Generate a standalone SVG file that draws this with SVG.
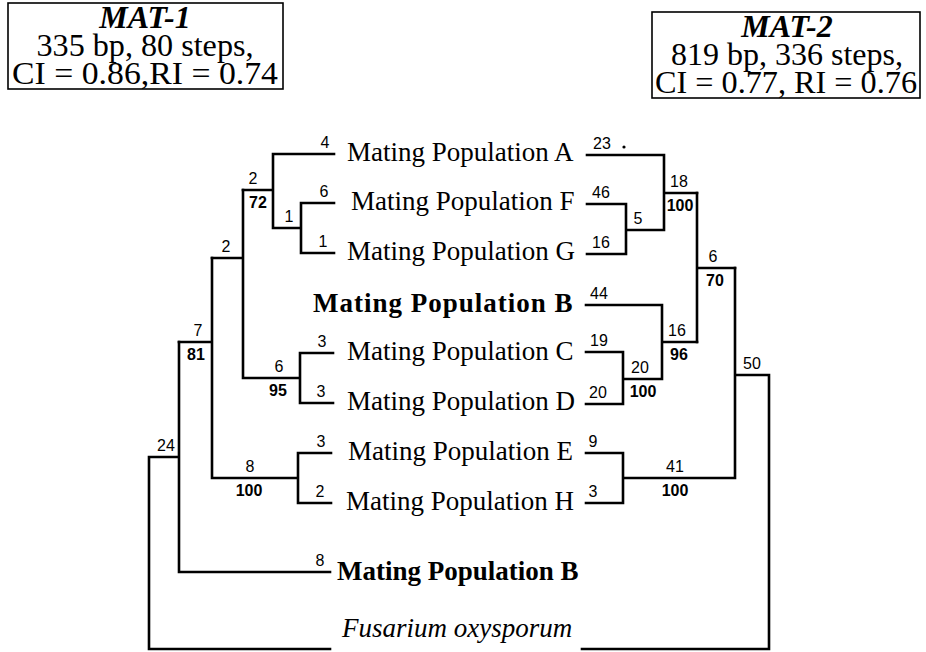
<svg xmlns="http://www.w3.org/2000/svg" width="926" height="652" viewBox="0 0 926 652">
  <style>
    .box { fill: none; stroke: #000; stroke-width: 1.6; }
    .hd { font-family: "Liberation Serif", "Times New Roman", serif; font-size: 31px; text-anchor: middle; fill: #000; }
    .hdt { font-weight: bold; font-style: italic; font-size: 32px; }
    .taxon { font-family: "Liberation Serif", "Times New Roman", serif; font-size: 27px; fill: #000; }
    .strong { font-weight: bold; }
    .ital { font-style: italic; }
    .br { fill: none; stroke: #000; stroke-width: 2.6; stroke-linecap: square; }
    .num { font-family: "Liberation Sans", Arial, sans-serif; font-size: 16px; text-anchor: middle; fill: #000; }
    .bs { font-weight: bold; }
  </style>

  <!-- data summary boxes -->
  <g id="mat1-box">
    <rect class="box" x="8" y="3" width="275" height="86"/>
    <text class="hd hdt" x="145" y="28">MAT-1</text>
    <text class="hd" x="145" y="56" textLength="217" lengthAdjust="spacingAndGlyphs">335 bp, 80 steps,</text>
    <text class="hd" x="145" y="84" textLength="266" lengthAdjust="spacingAndGlyphs">CI = 0.86,RI = 0.74</text>
  </g>
  <g id="mat2-box">
    <rect class="box" x="652" y="12" width="268" height="86"/>
    <text class="hd hdt" x="787" y="37">MAT-2</text>
    <text class="hd" x="787" y="65" textLength="232" lengthAdjust="spacingAndGlyphs">819 bp, 336 steps,</text>
    <text class="hd" x="786" y="93" textLength="262" lengthAdjust="spacingAndGlyphs">CI = 0.77, RI = 0.76</text>
  </g>

  <!-- taxa -->
  <g id="taxon-A"><text class="taxon" x="347" y="161">Mating Population A</text></g>
  <g id="taxon-F"><text class="taxon" x="351" y="210">Mating Population F</text></g>
  <g id="taxon-G"><text class="taxon" x="347" y="260">Mating Population G</text></g>
  <g id="taxon-B1"><text class="taxon strong" x="313" y="312" font-size="30" letter-spacing="1">Mating Population B</text></g>
  <g id="taxon-C"><text class="taxon" x="347" y="360">Mating Population C</text></g>
  <g id="taxon-D"><text class="taxon" x="347" y="410">Mating Population D</text></g>
  <g id="taxon-E"><text class="taxon" x="348" y="460">Mating Population E</text></g>
  <g id="taxon-H"><text class="taxon" x="346" y="510">Mating Population H</text></g>
  <g id="taxon-B2"><text class="taxon strong" x="337" y="580" font-size="26.5">Mating Population B</text></g>
  <g id="taxon-Fox"><text class="taxon ital" x="342" y="637" font-size="26.5">Fusarium oxysporum</text></g>

  <!-- MAT-1 tree (left) -->
  <g id="connectors-mat1">
    <path class="br" d="M273,154 H334 M301,203 H334 M301,253 H334 M301,203 V253 M273,228 H301 M273,154 V228 M243,190 H273"/>
    <path class="br" d="M300,353 H333 M300,403 H333 M300,353 V403 M243,378 H300 M243,190 V378 M212,258 H243"/>
    <path class="br" d="M298,453 H331 M298,503 H331 M298,453 V503 M212,478 H298 M212,258 V478 M179,342 H212"/>
    <path class="br" d="M179,572 H330 M179,342 V572 M149,457 H179 M149,457 V649 H330"/>
  </g>
  <g id="labels-mat1">
    <text class="num" x="325" y="148">4</text>
    <text class="num" x="324" y="197">6</text>
    <text class="num" x="323" y="247">1</text>
    <text class="num" x="289" y="222">1</text>
    <text class="num" x="253" y="184">2</text>
    <text class="num bs" x="258" y="208">72</text>
    <text class="num" x="226" y="252">2</text>
    <text class="num" x="322" y="347">3</text>
    <text class="num" x="321" y="397">3</text>
    <text class="num" x="279" y="372">6</text>
    <text class="num bs" x="278" y="396">95</text>
    <text class="num" x="198" y="336">7</text>
    <text class="num bs" x="196" y="360">81</text>
    <text class="num" x="321" y="447">3</text>
    <text class="num" x="320" y="497">2</text>
    <text class="num" x="250" y="472">8</text>
    <text class="num bs" x="249" y="496">100</text>
    <text class="num" x="320" y="566">8</text>
    <text class="num" x="166" y="451">24</text>
  </g>

  <!-- MAT-2 tree (right) -->
  <g id="connectors-mat2">
    <path class="br" d="M587,155 H664 M587,204 H626 M587,254 H626 M626,204 V254 M626,230 H664 M664,155 V230 M664,193 H697"/>
    <path class="br" d="M586,305 H662 M586,352 H623 M586,404 H623 M623,352 V404 M623,379 H662 M662,305 V379 M662,342 H697"/>
    <path class="br" d="M697,193 V342 M697,268 H735"/>
    <path class="br" d="M586,453 H623 M586,503 H623 M623,453 V503 M623,478 H735 M735,268 V478 M735,375 H769 M769,375 V649 H582"/>
    <circle cx="624" cy="147" r="1.6" fill="#000"/>
  </g>
  <g id="labels-mat2">
    <text class="num" x="602" y="149">23</text>
    <text class="num" x="601" y="198">46</text>
    <text class="num" x="601" y="248">16</text>
    <text class="num" x="638" y="224">5</text>
    <text class="num" x="679" y="187">18</text>
    <text class="num bs" x="680" y="211">100</text>
    <text class="num" x="713" y="262">6</text>
    <text class="num bs" x="715" y="286">70</text>
    <text class="num" x="599" y="299">44</text>
    <text class="num" x="599" y="346">19</text>
    <text class="num" x="598" y="398">20</text>
    <text class="num" x="640" y="373">20</text>
    <text class="num bs" x="643" y="397">100</text>
    <text class="num" x="677" y="336">16</text>
    <text class="num bs" x="679" y="360">96</text>
    <text class="num" x="752" y="369">50</text>
    <text class="num" x="593" y="447">9</text>
    <text class="num" x="593" y="497">3</text>
    <text class="num" x="675" y="472">41</text>
    <text class="num bs" x="675" y="496">100</text>
  </g>
</svg>
